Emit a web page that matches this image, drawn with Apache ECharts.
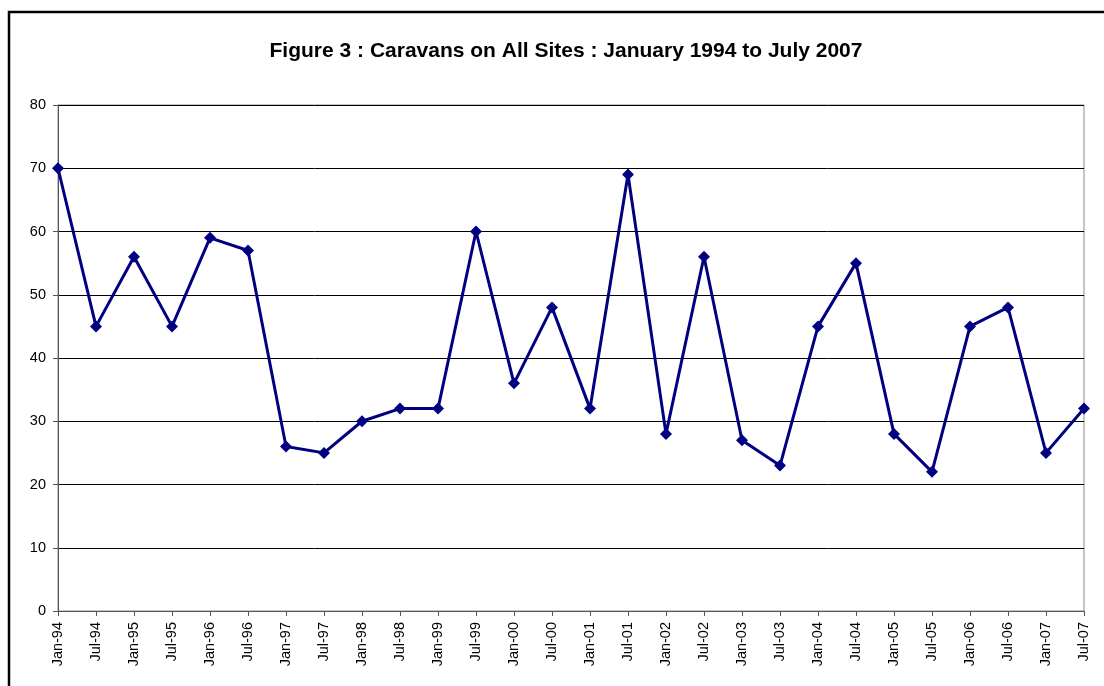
<!DOCTYPE html>
<html>
<head>
<meta charset="utf-8">
<script src="https://cdn.jsdelivr.net/npm/echarts@6/dist/echarts.min.js"></script>
<style>
  html, body { margin: 0; padding: 0; background: #fff; }
  #chart { width: 1104px; height: 686px; }
</style>
</head>
<body>
<div id="chart"></div>
<script>
// 横轴类别（半年一次）
const categories = [
  "Jan-94", "Jul-94", "Jan-95", "Jul-95", "Jan-96", "Jul-96", "Jan-97", "Jul-97",
  "Jan-98", "Jul-98", "Jan-99", "Jul-99", "Jan-00", "Jul-00", "Jan-01", "Jul-01",
  "Jan-02", "Jul-02", "Jan-03", "Jul-03", "Jan-04", "Jul-04", "Jan-05", "Jul-05",
  "Jan-06", "Jul-06", "Jan-07", "Jul-07"
];
// 大篷车数量
const caravans = [
  70, 45, 56, 45, 59, 57, 26, 25,
  30, 32, 32, 60, 36, 48, 32, 69,
  28, 56, 27, 23, 45, 55, 28, 22,
  45, 48, 25, 32
];
const yMin = 0;
const yMax = 80;
const yStep = 10;

const myChart = echarts.init(document.getElementById("chart"));
myChart.setOption({
  animation: false,
  title: {
    text: "Figure 3 : Caravans on All Sites : January 1994 to July 2007",
    left: 561,
    textAlign: "center",
    top: 36,
    textStyle: {
      fontFamily: "Liberation Sans, Arial, sans-serif",
      fontWeight: "bold",
      fontSize: 21,
      color: "#000",
    },
  },
  graphic: [
    {
      // 外框
      type: "rect",
      shape: { x: 9, y: 12, width: 1200, height: 800 },
      style: { fill: "none", stroke: "#000", lineWidth: 2.5 },
      z: 0,
    },
  ],
  grid: {
    left: 58,
    right: 20,
    top: 105,
    bottom: 75,
    show: true,
    borderColor: "#8c8c8c",
    borderWidth: 1,
  },
  xAxis: {
    type: "category",
    data: categories,
    boundaryGap: false,
    axisLine: { lineStyle: { color: "#555", width: 1 } },
    axisTick: { show: true, length: 5, alignWithLabel: true, lineStyle: { color: "#555" } },
    axisLabel: {
      rotate: 90,
      interval: 0,
      margin: 11,
      fontFamily: "Liberation Sans, Arial, sans-serif",
      fontSize: 14.5,
      color: "#000",
    },
    splitLine: { show: false },
  },
  yAxis: {
    type: "value",
    min: yMin,
    max: yMax,
    interval: yStep,
    axisLine: { show: true, lineStyle: { color: "#555", width: 1 } },
    axisTick: { show: true, length: 5, lineStyle: { color: "#555" } },
    axisLabel: {
      margin: 12,
      fontFamily: "Liberation Sans, Arial, sans-serif",
      fontSize: 14.5,
      color: "#000",
    },
    splitLine: { show: true, lineStyle: { color: "#000", width: 1 } },
  },
  series: [
    {
      type: "line",
      data: caravans,
      symbol: "diamond",
      symbolSize: 12,
      lineStyle: { color: "#000080", width: 3 },
      itemStyle: { color: "#000080" },
    },
  ],
});
</script>
</body>
</html>
